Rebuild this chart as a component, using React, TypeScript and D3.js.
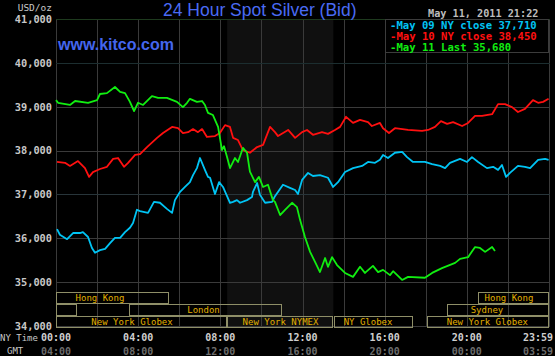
import React from "react";
import * as d3 from "d3";

// ---- data ----
const yTicks = [34000, 35000, 36000, 37000, 38000, 39000, 40000, 41000];
const xTickHours = [0, 4, 8, 12, 16, 20, 23.983];
const nyTimeLabels = ["00:00", "04:00", "08:00", "12:00", "16:00", "20:00", "23:59"];
const gmtLabels = ["04:00", "08:00", "12:00", "16:00", "20:00", "00:00", "03:59"];

const legendLabels = ["-May 09 NY close 37,710", "-May 10 NY close 38,450", "-May 11 Last 35,680"];

// [hour (NY time), bid USD/oz]
const may09: [number, number][] = [
  [0.05, 36210], [0.19, 36080], [0.54, 35980], [0.83, 36120], [1.17, 36120], [1.31, 36140],
  [1.56, 36030], [1.75, 35780], [1.9, 35670], [2.14, 35730], [2.39, 35760], [2.63, 35890],
  [2.87, 36010], [3.12, 36010], [3.36, 36140], [3.6, 36240], [3.75, 36350], [3.94, 36650],
  [4.09, 36620], [4.48, 36580], [4.77, 36830], [5.06, 36810], [5.4, 36670], [5.65, 36580],
  [5.79, 36870], [6.04, 37060], [6.28, 37170], [6.52, 37280], [6.67, 37440], [6.86, 37600],
  [7.01, 37830], [7.25, 37560], [7.4, 37400], [7.5, 37380], [7.74, 37010], [7.94, 37280],
  [8.13, 37170], [8.47, 36810], [8.62, 36830], [8.81, 36870], [8.96, 36810], [9.3, 36870],
  [9.54, 36940], [9.59, 37060], [9.79, 37260], [9.93, 36990], [10.18, 36810], [10.52, 36830],
  [10.66, 36960], [11.05, 37220], [11.39, 37150], [11.64, 37100], [11.78, 37010], [11.98, 37330],
  [12.27, 37490], [12.51, 37420], [12.85, 37440], [13.24, 37380], [13.49, 37170], [13.73, 37280],
  [14.07, 37510], [14.46, 37600], [14.9, 37650], [15.19, 37740], [15.53, 37720], [15.77, 37790],
  [15.92, 37900], [16.16, 37830], [16.5, 37950], [16.85, 37970], [17.09, 37850], [17.38, 37740],
  [17.96, 37740], [18.31, 37690], [18.7, 37650], [18.94, 37600], [19.18, 37720], [19.67, 37810],
  [20.01, 37740], [20.25, 37850], [20.55, 37740], [20.98, 37600], [21.28, 37630], [21.52, 37560],
  [21.71, 37670], [21.91, 37400], [22.1, 37490], [22.49, 37650], [22.83, 37630], [23.08, 37600],
  [23.47, 37790], [23.81, 37810], [23.98, 37790],
];

const may10: [number, number][] = [
  [0.05, 37740], [0.44, 37720], [0.68, 37650], [1.07, 37760], [1.41, 37600], [1.61, 37400],
  [1.8, 37510], [2.14, 37580], [2.48, 37630], [2.78, 37810], [3.02, 37830], [3.31, 37630],
  [3.51, 37720], [3.85, 37900], [4.09, 37920], [4.43, 38080], [4.92, 38290], [5.21, 38400],
  [5.65, 38540], [5.94, 38510], [6.18, 38400], [6.43, 38420], [6.67, 38490], [6.91, 38420],
  [7.11, 38490], [7.35, 38310], [7.74, 38330], [7.98, 38400], [8.23, 38580], [8.47, 38540],
  [8.62, 38290], [8.86, 38240], [9.1, 38010], [9.44, 37950], [9.79, 38080], [10.08, 38130],
  [10.42, 38540], [10.66, 38420], [10.81, 38330], [11.3, 38470], [11.64, 38290], [11.98, 38420],
  [12.22, 38470], [12.51, 38360], [12.95, 38420], [13.24, 38380], [13.58, 38470], [13.83, 38540],
  [14.12, 38770], [14.46, 38630], [14.8, 38700], [15.19, 38650], [15.38, 38560], [15.77, 38630],
  [15.92, 38510], [16.21, 38400], [16.5, 38510], [17.14, 38470], [17.82, 38450], [18.11, 38470],
  [18.45, 38540], [18.74, 38670], [19.04, 38610], [19.33, 38650], [19.77, 38560], [20.06, 38630],
  [20.4, 38790], [20.74, 38790], [21.23, 38830], [21.52, 39060], [21.86, 39060], [22.2, 38990],
  [22.49, 38880], [22.83, 38950], [23.22, 39150], [23.47, 39090], [23.71, 39110], [23.98, 39180],
];

const may11: [number, number][] = [
  [0.0, 39150], [0.1, 39090], [0.68, 39040], [0.93, 39130], [1.56, 39090], [2.0, 39150],
  [2.14, 39290], [2.48, 39310], [2.87, 39450], [3.12, 39340], [3.36, 39310], [3.6, 39110],
  [3.8, 38900], [3.99, 39090], [4.24, 39040], [4.67, 39240], [4.97, 39200], [5.4, 39200],
  [5.89, 39110], [6.18, 38990], [6.38, 39090], [6.52, 39180], [6.86, 39110], [7.11, 39130],
  [7.25, 39040], [7.4, 38860], [7.64, 38810], [7.89, 38540], [8.08, 38010], [8.18, 38100],
  [8.33, 37850], [8.47, 37600], [8.71, 37830], [8.86, 37740], [9.1, 38060], [9.3, 37950],
  [9.44, 37520], [9.69, 37280], [9.88, 37400], [10.08, 37170], [10.32, 37220], [10.56, 36870],
  [10.66, 36830], [10.91, 36530], [11.15, 36650], [11.49, 36810], [11.73, 36710], [11.88, 36420],
  [12.12, 36030], [12.37, 35690], [12.61, 35460], [12.85, 35230], [13.1, 35550], [13.24, 35350],
  [13.44, 35570], [13.68, 35390], [14.07, 35210], [14.46, 35120], [14.8, 35350], [15.04, 35210],
  [15.43, 35370], [15.68, 35230], [15.92, 35280], [16.26, 35160], [16.41, 35250], [16.85, 35050],
  [17.14, 35120], [17.96, 35100], [18.31, 35210], [18.79, 35320], [19.43, 35440], [19.67, 35530],
  [20.06, 35570], [20.4, 35800], [20.64, 35780], [20.89, 35690], [21.23, 35800], [21.37, 35710],
];

// trading sessions (NY hours): name, row, start, end, label centre
const sessionNames = ["Hong Kong", "", "London", "New York Globex", "New York NYMEX", "NY Globex", "New York Globex", "Sydney", "Hong Kong"];
const sessionRows = [0, 1, 1, 2, 2, 2, 2, 1, 0];
const sessionStart = [0, 0, 3.55, 0, 8.33, 13.53, 18.06, 19.04, 20.55];
const sessionEnd = [5.5, 1.0, 11.0, 8.33, 13.5, 17.38, 24, 24, 24];
const sessionLabelAt = [2.14, 0.5, 7.18, 3.7, 10.93, 15.19, 21.0, 20.98, 22.05];

const nymexHours = [8.333, 13.5];

// ---- styles ----
const W = 555;
const H = 356;
const MONO = "'DejaVu Sans Mono', monospace";
const SANS = "'Liberation Sans', Arial, sans-serif";
const GRID = "#3a3a3a";
const seriesColors = ["#00c4f4", "#ff1010", "#11ee11"];

export default function App() {
  const x = d3.scaleLinear().domain([0, 24]).range([56, 549]);
  const y = d3.scaleLinear().domain([34000, 41000]).range([326, 19]);
  const line = d3
    .line<[number, number]>()
    .x((d) => x(d[0]))
    .y((d) => y(d[1]));

  const vHours = d3.range(0, 25, 2);
  const crisp = (v: number) => Math.round(v) + 0.5;
  const hLineColor = (v: number) =>
    v === 41000 ? "#1e3a1e" : v === 40000 ? "#1c2e30" : v === 37000 ? "#28353a" : GRID;

  const rowTop = [292, 304, 316];

  return (
    <svg
      width={W}
      height={H}
      style={{ position: "absolute", left: 0, top: 0, background: "#000" }}
    >
      <rect x={0} y={0} width={W} height={H} fill="#000" />
      {/* NYMEX shading */}
      <rect
        x={x(nymexHours[0])}
        y={y(41000)}
        width={x(nymexHours[1]) - x(nymexHours[0])}
        height={y(34000) - y(41000)}
        fill="#101010"
      />
      {/* grid */}
      {vHours.map((h) => (
        <line key={"v" + h} x1={crisp(x(h))} x2={crisp(x(h))} y1={y(41000)} y2={y(34000) + 1} stroke={GRID} strokeWidth={1} />
      ))}
      {yTicks.map((v) => (
        <line key={"h" + v} x1={56} x2={550} y1={crisp(y(v))} y2={crisp(y(v))} stroke={hLineColor(v)} strokeWidth={1} />
      ))}

      {/* session boxes */}
      {sessionNames.map((name, i) => {
        const x0 = crisp(x(sessionStart[i]));
        const x1 = crisp(x(sessionEnd[i])) - 1;
        const top = rowTop[sessionRows[i]] + 0.5;
        return (
          <g key={"s" + i}>
            <rect x={x0} y={top} width={x1 - x0} height={11} fill="none" stroke="#8f8f68" strokeWidth={1} />
            {name && (
              <text x={x(sessionLabelAt[i])} y={top + 8.5} textAnchor="middle" fontFamily={MONO} fontSize={9} fill="#e2b000">
                {name}
              </text>
            )}
          </g>
        );
      })}

      {/* series */}
      {[may09, may10, may11].map((s, i) => (
        <path key={"p" + i} d={line(s) || ""} fill="none" stroke={seriesColors[i]} strokeWidth={1.8} strokeLinejoin="round" />
      ))}

      {/* legend */}
      <rect x={385.5} y={19.5} width={163} height={33} fill="#000" stroke="#3c3c3c" strokeWidth={1} />
      {legendLabels.map((t, i) => (
        <text key={"l" + i} x={390} y={28.5 + i * 11} fontFamily={MONO} fontSize={10.6} fontWeight="bold" fill={seriesColors[i]}>
          {t}
        </text>
      ))}

      {/* title & brand */}
      <text x={163} y={15.5} fontFamily={SANS} fontSize={17.5} fill="#4a6bf4">
        24 Hour Spot Silver (Bid)
      </text>
      <text x={58} y={49.5} fontFamily={SANS} fontSize={16} fontWeight="bold" fill="#4466ee">
        www.kitco.com
      </text>
      <text x={428} y={16.5} fontFamily={MONO} fontSize={10.2} fontWeight="bold" fill="#bdbdbd">
        May 11, 2011 21:22
      </text>

      {/* y axis labels */}
      <text x={52} y={10.5} textAnchor="end" fontFamily={MONO} fontSize={9.5} fill="#c8c8c8">
        USD/oz
      </text>
      {yTicks.map((v) => (
        <text key={"yl" + v} x={52} y={y(v) + 3.8} textAnchor="end" fontFamily={MONO} fontSize={10.3} fontWeight="bold" fill="#c8c8c8">
          {d3.format(",")(v)}
        </text>
      ))}

      {/* x axis labels */}
      <text x={0} y={341} fontFamily={MONO} fontSize={9} fill="#c8c8c8">NY Time</text>
      <text x={7} y={354} fontFamily={MONO} fontSize={9} fill="#c8c8c8">GMT</text>
      {xTickHours.map((h, i) => {
        const last = i === xTickHours.length - 1;
        const xp = last ? 553 : x(h);
        const anchor = last ? "end" : "middle";
        return (
          <g key={"xt" + i}>
            <text x={xp} y={340.5} textAnchor={anchor} fontFamily={MONO} fontSize={10} fontWeight="bold" fill="#cfcfcf">
              {nyTimeLabels[i]}
            </text>
            <text x={xp} y={354.5} textAnchor={anchor} fontFamily={MONO} fontSize={10} fontWeight="bold" fill="#6c6c6c">
              {gmtLabels[i]}
            </text>
          </g>
        );
      })}
    </svg>
  );
}
